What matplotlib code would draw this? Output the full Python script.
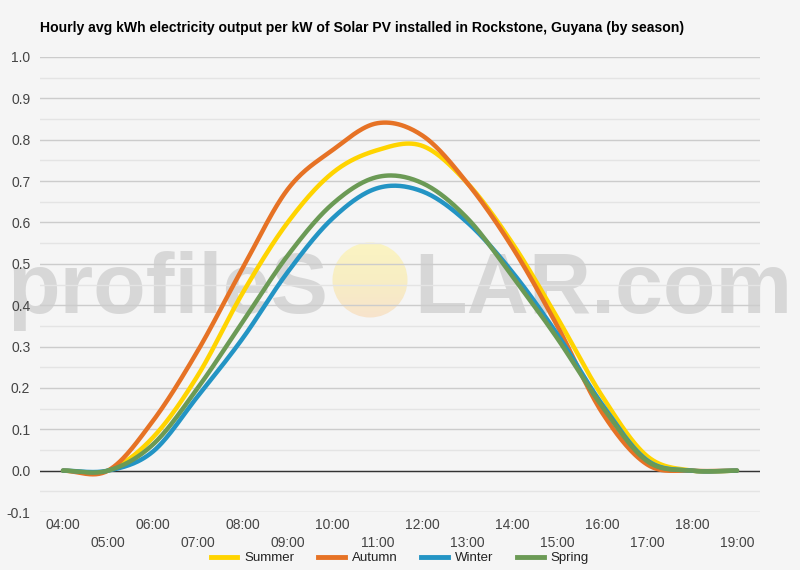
#!/usr/bin/env python3
import numpy as np
import matplotlib
matplotlib.use("Agg")
import matplotlib.pyplot as plt
from matplotlib.lines import Line2D
from matplotlib.patches import Circle

plt.rcParams['font.family'] = ['Liberation Sans', 'DejaVu Sans']

# hourly averages (kWh per kW installed), 04:00 .. 19:00
hours = list(range(4, 20))
hour_labels = [f"{h:02d}:00" for h in hours]
summer = [0, 0, 0.08, 0.23, 0.43, 0.60, 0.72, 0.775, 0.785, 0.695, 0.55, 0.37, 0.18, 0.035, 0, 0]
autumn = [0, 0, 0.12, 0.29, 0.49, 0.68, 0.775, 0.84, 0.81, 0.695, 0.54, 0.35, 0.14, 0.015, 0, 0]
winter = [0, 0, 0.046, 0.18, 0.32, 0.48, 0.61, 0.683, 0.675, 0.60, 0.48, 0.33, 0.16, 0.025, 0, 0]
spring = [0, 0, 0.063, 0.20, 0.36, 0.52, 0.645, 0.71, 0.695, 0.61, 0.47, 0.32, 0.155, 0.023, 0, 0]

series = [("Summer", summer, "#FFD400"),
          ("Autumn", autumn, "#E67225"),
          ("Winter", winter, "#2394C4"),
          ("Spring", spring, "#6B9A55")]


def smooth_curve(x, y, steps=30):
    """Catmull-Rom style smoothing, like the 'function' curve type of the original chart"""
    x = np.asarray(x, dtype=float)
    y = np.asarray(y, dtype=float)
    n = len(y)
    m = np.zeros(n)
    m[1:-1] = (y[2:] - y[:-2]) / 2
    m[0] = y[1] - y[0]
    m[-1] = y[-1] - y[-2]
    xs, ys = [], []
    t = np.linspace(0, 1, steps, endpoint=False)
    h00 = 2 * t**3 - 3 * t**2 + 1
    h10 = t**3 - 2 * t**2 + t
    h01 = -2 * t**3 + 3 * t**2
    h11 = t**3 - t**2
    for i in range(n - 1):
        xs.append(x[i] + t * (x[i + 1] - x[i]))
        ys.append(h00 * y[i] + h10 * m[i] + h01 * y[i + 1] + h11 * m[i + 1])
    xs.append([x[-1]])
    ys.append([y[-1]])
    return np.concatenate(xs), np.concatenate(ys)


fig = plt.figure(figsize=(8, 5.7), dpi=100)
fig.patch.set_facecolor('#f5f5f5')

# watermark layer in pixel coordinates, underneath the chart
wm = fig.add_axes([0, 0, 1, 1], zorder=0)
wm.set_xlim(0, 800)
wm.set_ylim(570, 0)
wm.axis('off')
wm.text(328, 313, "profileS", ha='right', va='baseline', fontsize=62, fontweight='bold',
        color='#c8c8c8', alpha=0.65)
wm.text(414, 313, "LAR.com", ha='left', va='baseline', fontsize=62, fontweight='bold',
        color='#c8c8c8', alpha=0.65)
grad = np.linspace(0, 1, 100)[:, None]
cmap = matplotlib.colors.LinearSegmentedColormap.from_list('sun', ['#fbf4c2', '#f8eec4', '#f7e3cc'])
img = wm.imshow(grad, cmap=cmap, extent=(332, 408, 318, 242), aspect='auto', zorder=1)
img.set_clip_path(Circle((370, 280), 37.5, transform=wm.transData))

ax = fig.add_axes([0.05, 1 - 512 / 570, 0.90, (512 - 57) / 570], zorder=1)
ax.set_facecolor('none')

for name, vals, color in series:
    xs, ys = smooth_curve(hours, vals)
    ax.plot(xs, ys, color=color, lw=3.2, solid_capstyle='round', zorder=3)

ax.set_xlim(3.488, 19.512)
ax.set_ylim(-0.1, 1.0)

yticks = np.round(np.arange(-0.1, 1.01, 0.1), 1)
ax.set_yticks(yticks)
ax.set_yticks(np.round(np.arange(-0.05, 1.0, 0.1), 2), minor=True)
ax.set_yticklabels([f"{v:.1f}" for v in yticks])
ax.grid(axis='y', which='major', color='#cccccc', lw=1)
ax.grid(axis='y', which='minor', color='#e4e4e4', lw=1)
ax.axhline(0, color='#333333', lw=1, zorder=2)
ax.set_axisbelow(True)

ax.set_xticks(hours[::2])
ax.set_xticklabels(hour_labels[::2])
ax.set_xticks(hours[1::2], minor=True)
ax.set_xticklabels(hour_labels[1::2], minor=True)

ax.tick_params(axis='x', which='major', length=0, pad=4, labelsize=10, labelcolor='#444444')
ax.tick_params(axis='x', which='minor', length=0, pad=17.5, labelsize=10, labelcolor='#444444')
ax.tick_params(axis='y', which='both', length=0, pad=7, labelsize=10, labelcolor='#444444')
for s in ax.spines.values():
    s.set_visible(False)

fig.text(40 / 800, 1 - 28 / 570, "Hourly avg kWh electricity output per kW of Solar PV installed in Rockstone, Guyana (by season)",
         fontsize=10.1, fontweight='bold', color='#000000', va='center', ha='left')

handles = [Line2D([0], [0], color=c, lw=3.5) for _, _, c in series]
fig.legend(handles, [n for n, _, _ in series], loc='center', bbox_to_anchor=(0.5, 1 - 558 / 570),
           ncol=4, frameon=False, fontsize=9.5, handlelength=2.0, handletextpad=0.55,
           columnspacing=1.8, labelcolor='#222222')

fig.savefig("out.png", dpi=100, facecolor=fig.get_facecolor())
